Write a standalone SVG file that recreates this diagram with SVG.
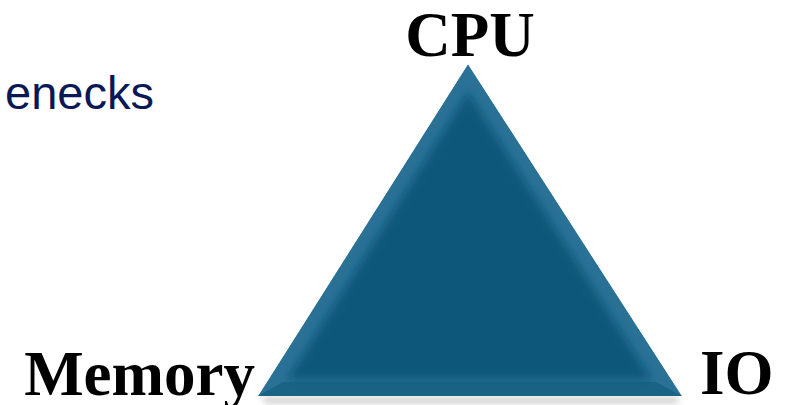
<svg xmlns="http://www.w3.org/2000/svg" width="787" height="405" viewBox="0 0 787 405">
  <defs>
    <filter id="soft" x="-10%" y="-10%" width="120%" height="120%">
      <feGaussianBlur stdDeviation="4"/>
    </filter>
    <filter id="shadow" x="-10%" y="-50%" width="120%" height="200%">
      <feGaussianBlur stdDeviation="3"/>
    </filter>
    <clipPath id="tri-clip">
      <polygon points="468,64 258,396 682,396"/>
    </clipPath>
  </defs>
  <style>
    .label { font-family: "Liberation Serif", "Times New Roman", serif; font-weight: bold; font-size: 63px; fill: #000; }
    .title { font-family: "Liberation Sans", Arial, sans-serif; font-size: 47px; fill: #0b1856; }
  </style>
  <rect width="787" height="405" fill="#fff"/>
  <text class="title" x="154" y="109" text-anchor="end">enecks</text>

  <!-- bevelled triangle -->
  <g id="triangle">
    <polygon points="262,398 680,398 676,403 266,403" fill="#9a9a9a" opacity="0.6" filter="url(#shadow)"/>
    <g clip-path="url(#tri-clip)">
      <polygon points="468,64 258,396 682,396" fill="#2a7196"/>
      <polygon points="258,396 682,396 656,382 283,382" fill="#1b6385"/>
      <polygon points="468,92 287,380 652,380" fill="#0b587a" filter="url(#soft)"/>
    </g>
  </g>

  <g id="cpu"><text class="label" x="470" y="56" text-anchor="middle">CPU</text></g>
  <g id="memory"><text class="label" x="255" y="395" text-anchor="end">Memory</text></g>
  <g id="io"><text class="label" x="700" y="394">IO</text></g>
  <g id="connectors"/>
</svg>
